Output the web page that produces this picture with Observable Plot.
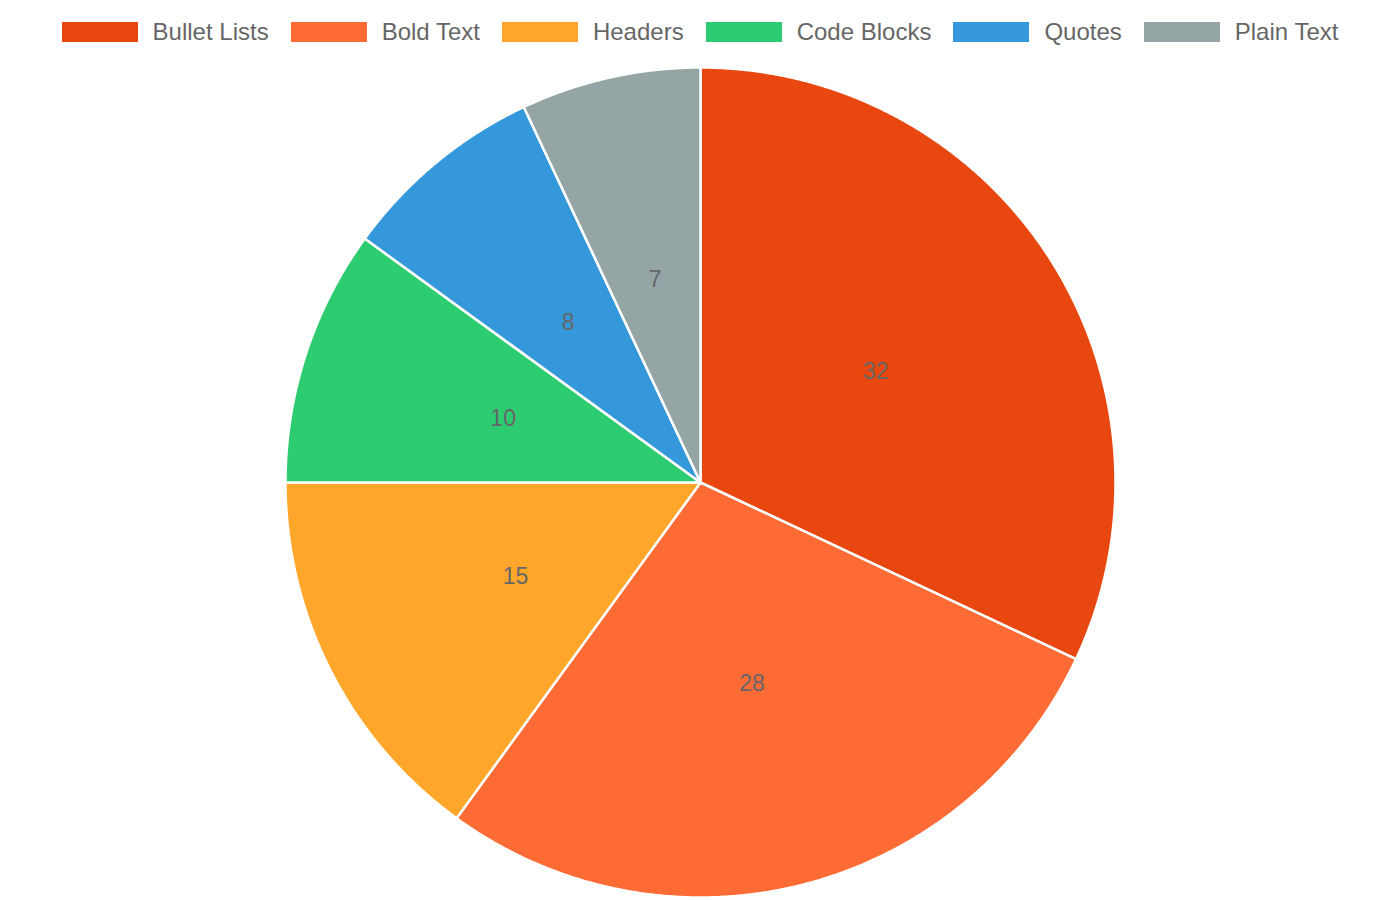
<!DOCTYPE html>
<html>
<head>
<meta charset="utf-8">
<script src="https://cdn.jsdelivr.net/npm/d3@7"></script>
<script src="https://cdn.jsdelivr.net/npm/@observablehq/plot@0.6"></script>
<style>
  html, body { margin: 0; padding: 0; background: #fff; }
  body { font-family: "Liberation Sans", Arial, Helvetica, sans-serif; width: 1400px; }
  #legend { height: 64px; display: flex; justify-content: center; align-items: center; gap: 22px; }
  .item { display: flex; align-items: center; gap: 15px; font-size: 24px; color: #666; }
  .sw { width: 76px; height: 20px; }
  #chart svg { display: block; }
</style>
</head>
<body>
<div id="legend"></div>
<div id="chart"></div>
<script>
// ---- data ----
const categories = ["Bullet Lists", "Bold Text", "Headers", "Code Blocks", "Quotes", "Plain Text"];
const values = [32, 28, 15, 10, 8, 7];
const colors = ["#E8470F", "#FF6B35", "#FFA62B", "#2ECC71", "#3498DB", "#95A5A6"];

// ---- legend ----
const legend = document.getElementById("legend");
categories.forEach((c, i) => {
  const it = document.createElement("div");
  it.className = "item";
  const sw = document.createElement("div");
  sw.className = "sw";
  sw.style.background = colors[i];
  const tx = document.createElement("span");
  tx.textContent = c;
  it.appendChild(sw);
  it.appendChild(tx);
  legend.appendChild(it);
});

// ---- pie geometry (unit radius, y down, angle clockwise from 12 o'clock) ----
const arcs = d3.pie().sort(null).value(d => d.value)(
  categories.map((c, i) => ({category: c, value: values[i]}))
);

const features = arcs.map(a => {
  const ring = [[0, 0]];
  const steps = Math.max(2, Math.ceil((a.endAngle - a.startAngle) / (Math.PI / 720)));
  for (let k = 0; k <= steps; k++) {
    const t = a.startAngle + (a.endAngle - a.startAngle) * k / steps;
    ring.push([Math.sin(t), -Math.cos(t)]);
  }
  ring.push([0, 0]);
  return {
    type: "Feature",
    properties: {category: a.data.category, value: a.data.value},
    geometry: {type: "Polygon", coordinates: [ring]}
  };
});

const labels = arcs.map(a => {
  const m = (a.startAngle + a.endAngle) / 2;
  return {category: a.data.category, value: a.data.value, x: 0.5 * Math.sin(m), y: -0.5 * Math.cos(m)};
});

const chart = Plot.plot({
  width: 1400,
  height: 836,
  marginTop: 3,
  marginBottom: 3,
  marginLeft: 0,
  marginRight: 0,
  projection: {
    type: "identity",
    domain: {type: "MultiPoint", coordinates: [[-1, -1], [1, 1]]}
  },
  color: {domain: categories, range: colors},
  style: {fontFamily: "Liberation Sans, Arial, sans-serif", background: "#fff"},
  marks: [
    Plot.geo(features, {
      fill: d => d.properties.category,
      stroke: "#fff",
      strokeWidth: 2.5,
      strokeLinejoin: "round"
    }),
    Plot.text(labels, {
      x: "x",
      y: "y",
      text: d => String(d.value),
      fill: "#666",
      fontSize: 23
    })
  ]
});
document.getElementById("chart").appendChild(chart);
</script>
</body>
</html>
